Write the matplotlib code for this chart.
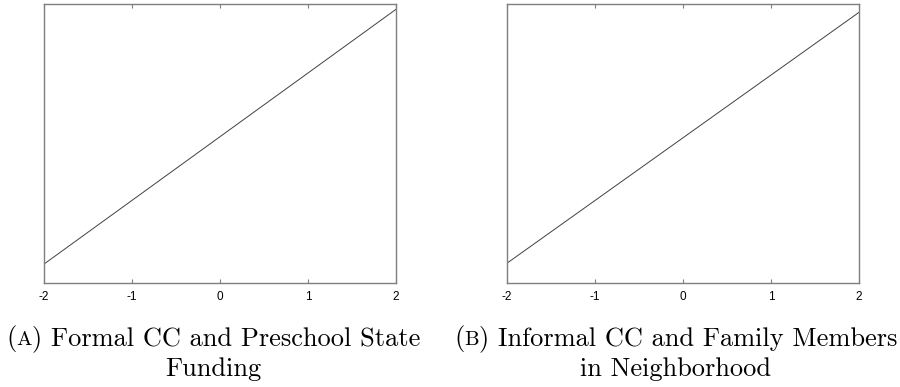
import matplotlib
matplotlib.use("Agg")
import matplotlib.pyplot as plt
import numpy as np

# data (no y scale shown, values in axis fractions)
x_ends = [-2, 2]
y_formal = [0.068, 0.982]
y_informal = [0.071, 0.971]
xticks = [-2, -1, 0, 1, 2]
captions = [
    ("A", "Formal CC and Preschool State", "Funding"),
    ("B", "Informal CC and Family Members", "in Neighborhood"),
]

gray = "#7f7f7f"
fig = plt.figure(figsize=(9, 3.87), dpi=100)


def panel(rect, y):
    ax = fig.add_axes(rect)
    ax.plot(x_ends, y, color="#404040", lw=0.7)
    ax.set_xlim(-2, 2)
    ax.set_ylim(0, 1)
    ax.set_xticks(xticks)
    ax.set_xticklabels([str(t) for t in xticks], family="Liberation Sans",
                       fontsize=8.5)
    ax.set_yticks([])
    ax.tick_params(axis="x", direction="in", length=3, width=0.8, color=gray,
                   top=True, pad=6)
    for s in ax.spines.values():
        s.set_color(gray)
        s.set_linewidth(1.0)
    return ax


panel([0.0489, 0.2687, 0.3911, 0.7202], y_formal)
panel([0.5633, 0.2687, 0.3911, 0.7202], y_informal)

# captions in Computer Modern with a small-caps letter
fs = 19
fig.canvas.draw()
r = fig.canvas.get_renderer()


def line(pieces, cx, y):
    texts = [fig.text(0, y, s, fontsize=f, family="cmr10", va="baseline")
             for s, f in pieces]
    widths = [t.get_window_extent(r).width for t in texts]
    x = cx * 900 - sum(widths) / 2
    for t, w in zip(texts, widths):
        t.set_x(x / 900)
        x += w


for (lab, l1, l2), cx in zip(captions, [0.2367, 0.751]):
    line([("(", fs), (lab, fs * 0.78), (") " + l1, fs)], cx, 1 - 345 / 387)
    line([(l2, fs)], cx, 1 - 376 / 387)

fig.savefig("out.png", dpi=100)
